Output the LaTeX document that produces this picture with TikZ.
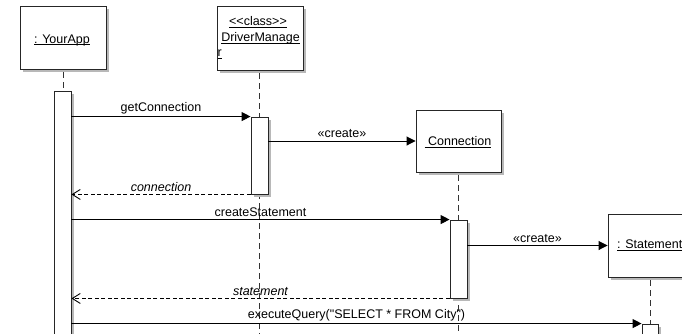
\documentclass[tikz,border=0pt]{standalone}
\usepackage{fontspec}
\newfontfamily\uifont{Liberation Sans}
\usetikzlibrary{arrows.meta,calc}
\newcommand\ulx[1]{\setbox0\hbox{#1}\rlap{\rule[-2pt]{\wd0}{0.7pt}}\box0}
\begin{document}
\begin{tikzpicture}[x=1pt,y=-1pt,
  every node/.style={font=\uifont\fontsize{12.5}{14}\selectfont},
  shadowbox/.style={fill=black!28,draw=none,inner sep=0pt,outer sep=0pt},
  objbox/.style={draw=black!85,line width=0.9pt,fill=white,inner sep=0pt},
  actbar/.style={draw=black!85,line width=0.9pt,fill=white,inner sep=0pt,minimum width=17pt},
  lifeline/.style={draw=black!80,line width=0.9pt,dash pattern=on 6pt off 4pt},
  msg/.style={draw=black,line width=0.9pt,-{Triangle[length=9pt,width=9pt]}},
  retmsg/.style={draw=black,line width=0.9pt,dash pattern=on 4pt off 2.5pt,-{Straight Barb[length=8pt,width=10pt]}},
  lbl/.style={midway,above=2.5pt,inner sep=0pt}]
\useasboundingbox (0,0) rectangle (682,333);
\fill[white] (0,0) rectangle (682,333);
% object box shadows
\node[shadowbox,minimum width=86pt,minimum height=63pt] (appsh) at (66,40.5) {};
\node[shadowbox,minimum width=86pt,minimum height=64pt] (dmsh) at (263,41) {};
\node[shadowbox,minimum width=85pt,minimum height=62pt] (consh) at (461.5,144) {};
\node[shadowbox,minimum width=85pt,minimum height=63pt] (stmsh) at (653.5,248.5) {};
% object boxes
\node[objbox,minimum width=86pt,minimum height=63pt] (app) at (63,37.5) {};
\node[objbox,minimum width=86pt,minimum height=64pt] (dm) at (260,38) {};
\node[objbox,minimum width=85pt,minimum height=62pt] (con) at (458.5,141) {};
\node[objbox,minimum width=85pt,minimum height=63pt] (stm) at (650.5,245.5) {};
% object names
\node (appname) at (62,40) {\ulx{: YourApp}};
\node (dmst) at (258,22) {\ulx{<\kern0pt<class>\kern0pt>}};
\node (dmname) at (260.5,38) {\ulx{DriverManage}};
\node[anchor=west,inner sep=0pt] (dmr) at (217.5,54) {\ulx{r}};
\node (conname) at (458,142) {\ulx{ Connection}};
\node[anchor=west,inner sep=0pt] (stmname) at (617,245) {\ulx{: Statement}};
% lifelines
\coordinate (append) at (63,345);
\coordinate (dmend) at (259,345);
\coordinate (conend) at (458,345);
\coordinate (stmend) at (650,345);
\draw[lifeline] ([yshift=-3pt]app.south -| append) -- (append);
\draw[lifeline] ([yshift=-3pt]dm.south -| dmend) -- (dmend);
\draw[lifeline] ([yshift=-3pt]con.south -| conend) -- (conend);
\draw[lifeline] ([yshift=-3pt]stm.south -| stmend) -- (stmend);
% activation bar shadows
\node[shadowbox,minimum width=17pt,minimum height=254pt] (a0sh) at (65.5,221) {};
\node[shadowbox,minimum width=17pt,minimum height=77pt] (a1sh) at (262.5,158.5) {};
\node[shadowbox,minimum width=17pt,minimum height=78pt] (a2sh) at (461.5,262) {};
\node[shadowbox,minimum width=16pt,minimum height=30pt] (a3sh) at (653,342) {};
% activation bars
\node[actbar,minimum height=254pt] (a0) at (62.5,218) {};
\node[actbar,minimum height=77pt] (a1) at (259.5,155.5) {};
\node[actbar,minimum height=78pt] (a2) at (458.5,259) {};
\node[actbar,minimum width=16pt,minimum height=30pt] (a3) at (650,339) {};
% messages
\draw[msg] (a0.east |- a1.north west) -- node[lbl] {getConnection} (a1.north west);
\draw[msg] (a1.east |- con.west) -- node[lbl] {«create»} (con.west);
\draw[retmsg] (a1.south west) -- node[lbl] {\itshape connection} (a0.east |- a1.south west);
\draw[msg] (a0.east |- a2.north west) -- node[lbl] {createStatement} (a2.north west);
\draw[msg] (a2.east |- stm.west) -- node[lbl] {«create»} (stm.west);
\draw[retmsg] (a2.south west) -- node[lbl] {\itshape statement} (a0.east |- a2.south west);
\draw[msg] (a0.east |- a3.north west) -- node[lbl] {executeQuery("SELECT * FROM City")} (a3.north west);
\end{tikzpicture}
\end{document}
